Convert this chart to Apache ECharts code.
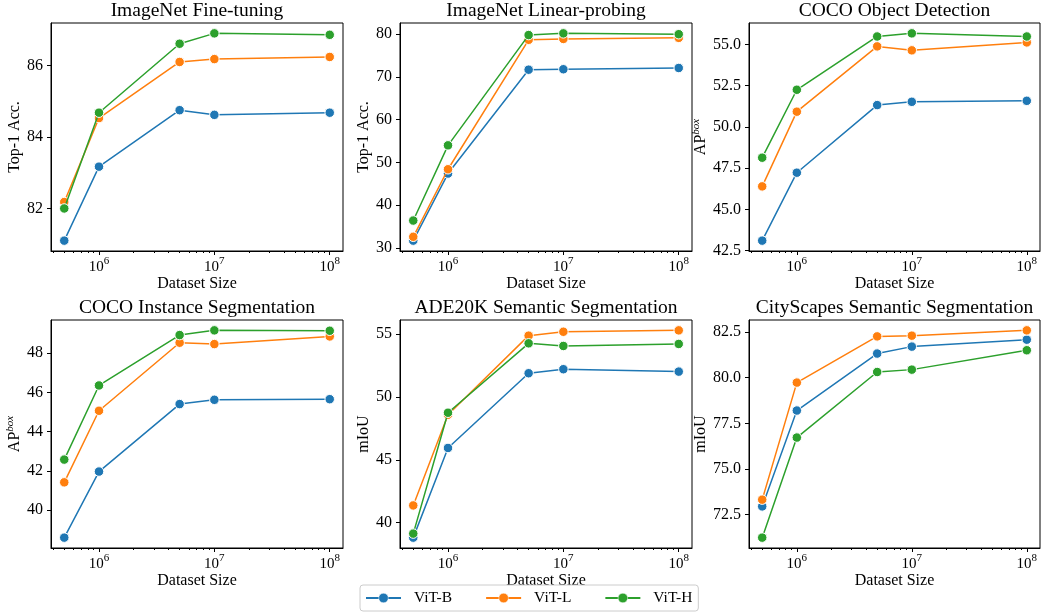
<!DOCTYPE html>
<html>
<head>
<meta charset="utf-8">
<script src="https://cdn.jsdelivr.net/npm/echarts@6/dist/echarts.min.js"></script>
<style>
html, body { margin: 0; padding: 0; background: #fff; }
#chart { width: 1042px; height: 615px; }
</style>
</head>
<body>
<div id="chart"></div>
<script>
// dataset sizes, same for every panel
var sizes = [5e5, 1e6, 5e6, 1e7, 1e8];
var modelNames = ["ViT-B", "ViT-L", "ViT-H"];
var colors = ["#1f77b4", "#ff7f0e", "#2ca02c"];

// x ticks
var xMajor = [1e6, 1e7, 1e8];
var xMinor = [4e5, 5e5, 6e5, 7e5, 8e5, 9e5,
  2e6, 3e6, 4e6, 5e6, 6e6, 7e6, 8e6, 9e6,
  2e7, 3e7, 4e7, 5e7, 6e7, 7e7, 8e7, 9e7];

// ImageNet Fine-tuning
var ftB = [81.1, 83.17, 84.75, 84.62, 84.68];
var ftL = [82.18, 84.53, 86.1, 86.18, 86.24];
var ftH = [82.0, 84.68, 86.61, 86.9, 86.86];
var ftTicks = [82, 84, 86];

// ImageNet Linear-probing
var lpB = [31.7, 47.4, 71.7, 71.8, 72.1];
var lpL = [32.6, 48.4, 78.7, 78.9, 79.15];
var lpH = [36.4, 54.0, 79.8, 80.2, 80.0];
var lpTicks = [30, 40, 50, 60, 70, 80];

// COCO Object Detection
var odB = [43.1, 47.22, 51.32, 51.52, 51.58];
var odL = [46.39, 50.92, 54.88, 54.64, 55.12];
var odH = [48.13, 52.25, 55.48, 55.67, 55.48];
var odTicks = [42.5, 45.0, 47.5, 50.0, 52.5, 55.0];

// COCO Instance Segmentation
var isB = [38.59, 41.96, 45.4, 45.62, 45.65];
var isL = [41.41, 45.06, 48.53, 48.46, 48.85];
var isH = [42.57, 46.35, 48.92, 49.16, 49.14];
var isTicks = [40, 42, 44, 46, 48];

// ADE20K Semantic Segmentation
var adeB = [38.81, 45.94, 51.88, 52.2, 52.01];
var adeL = [41.37, 48.58, 54.87, 55.18, 55.29];
var adeH = [39.13, 48.74, 54.26, 54.05, 54.21];
var adeTicks = [40, 45, 50, 55];

// CityScapes Semantic Segmentation
var csB = [72.95, 78.2, 81.32, 81.7, 82.08];
var csL = [73.32, 79.73, 82.26, 82.3, 82.59];
var csH = [71.24, 76.72, 80.31, 80.44, 81.5];
var csTicks = [72.5, 75.0, 77.5, 80.0, 82.5];

var panels = [
  { title: "ImageNet Fine-tuning", yName: "{n|Top-1 Acc.}", lines: [ftB, ftL, ftH], ticks: ftTicks, dec: 0, gap: 24 },
  { title: "ImageNet Linear-probing", yName: "{n|Top-1 Acc.}", lines: [lpB, lpL, lpH], ticks: lpTicks, dec: 0, gap: 27 },
  { title: "COCO Object Detection", yName: "{n|AP}{s|box}", lines: [odB, odL, odH], ticks: odTicks, dec: 1, gap: 37 },
  { title: "COCO Instance Segmentation", yName: "{n|AP}{s|box}", lines: [isB, isL, isH], ticks: isTicks, dec: 0, gap: 25 },
  { title: "ADE20K Semantic Segmentation", yName: "{n|mIoU}", lines: [adeB, adeL, adeH], ticks: adeTicks, dec: 0, gap: 25 },
  { title: "CityScapes Semantic Segmentation", yName: "{n|mIoU}", lines: [csB, csL, csH], ticks: csTicks, dec: 1, gap: 38 }
];

var FONT = "Liberation Serif";
var colLeft = [51, 400, 749];
var colWidth = [292, 292, 291];
var rowTop = [23, 320];
var plotH = 228;
var xMin = Math.pow(10, 5.584);
var xMax = Math.pow(10, 8.115);

var grids = [], titles = [], xAxes = [], yAxes = [], series = [];

panels.forEach(function (p, i) {
  var c = i % 3, r = Math.floor(i / 3);
  grids.push({
    left: colLeft[c], top: rowTop[r], width: colWidth[c], height: plotH,
    show: true, borderColor: "#000", borderWidth: 1, backgroundColor: "transparent"
  });
  titles.push({
    text: p.title, left: colLeft[c] + colWidth[c] / 2, top: rowTop[r] - 22,
    textAlign: "center", padding: 0,
    textStyle: { fontFamily: FONT, fontSize: 19.5, fontWeight: "normal", color: "#000" }
  });

  // matplotlib style 5% margins around the data
  var all = [].concat(p.lines[0], p.lines[1], p.lines[2]);
  var lo = Math.min.apply(null, all), hi = Math.max.apply(null, all);
  var pad = (hi - lo) * 0.05;

  xAxes.push({
    type: "log", gridIndex: i, position: "bottom", min: xMin, max: xMax,
    axisLine: { lineStyle: { color: "#000", width: 1 } },
    axisTick: { customValues: xMajor, length: 4, lineStyle: { color: "#000" } },
    axisLabel: {
      customValues: xMajor, margin: 5, color: "#000",
      formatter: function (v) { return "{b|10}{s|" + Math.round(Math.log10(v)) + "}"; },
      rich: {
        b: { fontFamily: FONT, fontSize: 15, color: "#000" },
        s: { fontFamily: FONT, fontSize: 11, color: "#000", padding: [0, 0, 11, 0] }
      }
    },
    splitLine: { show: false },
    name: "Dataset Size", nameLocation: "middle", nameGap: 21,
    nameTextStyle: { fontFamily: FONT, fontSize: 16, color: "#000", verticalAlign: "top" }
  });
  xAxes.push({
    type: "log", gridIndex: i, position: "bottom", min: xMin, max: xMax,
    axisLine: { show: false },
    axisTick: { customValues: xMinor, length: 2, lineStyle: { color: "#000" } },
    axisLabel: { show: false },
    splitLine: { show: false }
  });
  yAxes.push({
    type: "value", gridIndex: i, min: lo - pad, max: hi + pad,
    axisLine: { show: true, lineStyle: { color: "#000", width: 1 } },
    axisTick: { show: true, customValues: p.ticks, length: 4, lineStyle: { color: "#000" } },
    axisLabel: {
      customValues: p.ticks, margin: 8, color: "#000", fontFamily: FONT, fontSize: 16,
      formatter: (function (d) { return function (v) { return v.toFixed(d); }; })(p.dec)
    },
    splitLine: { show: false },
    name: p.yName, nameLocation: "middle", nameGap: p.gap, nameRotate: 90,
    nameTextStyle: {
      color: "#000",
      rich: {
        n: { fontFamily: FONT, fontSize: 16, color: "#000" },
        s: { fontFamily: FONT, fontSize: 11, fontStyle: "italic", color: "#000", padding: [0, 0, 9, 0] }
      }
    }
  });

  p.lines.forEach(function (vals, j) {
    series.push({
      type: "line", name: modelNames[j], xAxisIndex: 2 * i, yAxisIndex: i,
      data: sizes.map(function (x, k) { return [x, vals[k]]; }),
      symbol: "circle", symbolSize: 9.5, showSymbol: true,
      color: colors[j],
      lineStyle: { width: 1.5, color: colors[j] },
      itemStyle: { color: colors[j], borderColor: "#fff", borderWidth: 1 },
      emphasis: { disabled: true },
      z: 2 + j
    });
  });
});

var chart = echarts.init(document.getElementById("chart"), null, { renderer: "canvas" });
chart.setOption({
  animation: false,
  backgroundColor: "#fff",
  title: titles,
  grid: grids,
  xAxis: xAxes,
  yAxis: yAxes,
  legend: {
    data: modelNames, left: 360, top: 585, orient: "horizontal",
    padding: [5, 6, 5, 5], itemGap: 33, itemWidth: 35, itemHeight: 12,
    borderColor: "#ccc", borderWidth: 1, borderRadius: 3,
    itemStyle: { borderWidth: 0.5 },
    textStyle: { fontFamily: FONT, fontSize: 15.5, color: "#000", padding: [0, 0, 0, 8] }
  },
  series: series
});
</script>
</body>
</html>
